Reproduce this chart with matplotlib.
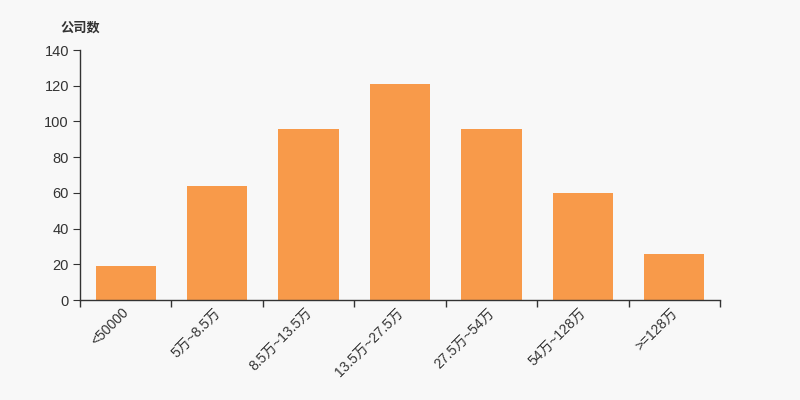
import matplotlib.pyplot as plt
import matplotlib.transforms as mtransforms
import numpy as np

plt.rcParams['font.family'] = ['Liberation Sans', 'Noto Sans CJK SC', 'DejaVu Sans']

categories = ['<50000', '5万~8.5万', '8.5万~13.5万', '13.5万~27.5万', '27.5万~54万', '54万~128万', '>=128万']
counts = [19, 64, 96, 121, 96, 60, 26]

bg = '#f8f8f8'
axis_color = '#333333'

fig = plt.figure(figsize=(8, 4), dpi=100, facecolor=bg)
ax = fig.add_axes([0.1, 0.25, 0.8, 0.625], facecolor=bg)

x = np.arange(len(categories))
ax.bar(x, counts, width=0.66, color='#f89a4a')

ax.set_xlim(-0.5, len(categories) - 0.5)
ax.set_ylim(0, 140)
ax.set_yticks(range(0, 141, 20))

# labels in the middle of each band, tick marks on the band edges
ax.set_xticks(x)
ax.set_xticklabels(categories, rotation=45, ha='right', va='top', rotation_mode='anchor')
ax.set_xticks(np.arange(len(categories) + 1) - 0.5, minor=True)
ax.tick_params(axis='x', which='major', length=0, pad=4, labelsize=10, labelcolor='#333333')
ax.tick_params(axis='x', which='minor', length=5, color=axis_color, width=1)
ax.tick_params(axis='y', length=5, color=axis_color, labelsize=10.5, labelcolor='#333333', pad=3)

shift = mtransforms.ScaledTranslation(-4 / 100, 0, fig.dpi_scale_trans)
for lbl in ax.get_xticklabels():
    lbl.set_transform(lbl.get_transform() + shift)

for side in ['top', 'right']:
    ax.spines[side].set_visible(False)
for side in ['left', 'bottom']:
    ax.spines[side].set_color(axis_color)
    ax.spines[side].set_linewidth(1)

fig.text(0.1, 0.93, '公司数', ha='center', va='center', fontsize=9.5, fontweight='bold',
         color='#333333', family=['Noto Sans CJK SC', 'DejaVu Sans'])

fig.savefig('out.png', dpi=100, facecolor=bg)
